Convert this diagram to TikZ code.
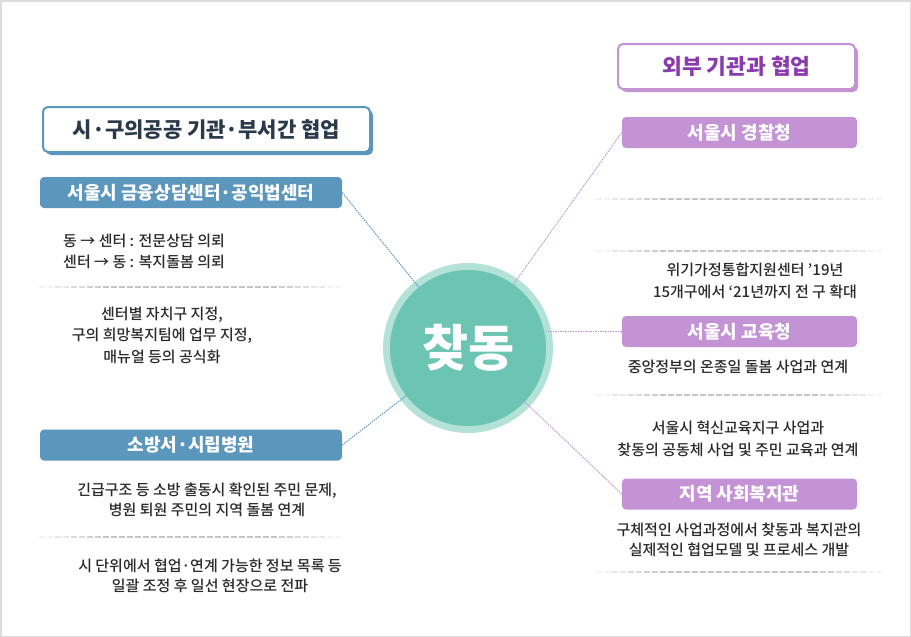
\documentclass[tikz,border=0pt]{standalone}
\usepackage{fontspec}
\setmainfont{Noto Sans CJK KR}
\newfontfamily\medfont{Noto Sans CJK KR Medium}
\usetikzlibrary{calc}
\definecolor{bluebox}{HTML}{5B96BD}
\definecolor{navytxt}{HTML}{2B3A4A}
\definecolor{purpbox}{HTML}{C393D6}
\definecolor{purptxt}{HTML}{8A3AAC}
\definecolor{tealin}{HTML}{6CC4B3}
\definecolor{tealring}{HTML}{B4E2D9}
\definecolor{bodytxt}{HTML}{2A2A2A}
\definecolor{sepgray}{HTML}{C4C4C4}
\definecolor{framegray}{HTML}{DDDDDD}
\tikzset{
  hdrbox/.style={draw=#1, line width=2pt, fill=white, rounded corners=5pt, minimum height=45pt, inner sep=0pt},
  hdrshadow/.style={fill=#1, rounded corners=5pt, minimum height=45pt, inner sep=0pt},
  catbox/.style={fill=#1, rounded corners=4pt, minimum height=31pt, inner sep=0pt, text=white, font=\fontsize{18}{20}\selectfont\bfseries},
  bodytext/.style={text=bodytxt, align=center, inner sep=0pt, font=\medfont\fontsize{15}{#1}\selectfont},
  bodytext/.default=21,
  sepline/.style={draw=sepgray, line width=1.3pt, dash pattern=on 6pt off 2pt},
  bluelink/.style={draw=bluebox, line width=0.9pt, dash pattern=on 1.6pt off 0.9pt},
  purplink/.style={draw=purpbox, line width=0.9pt, dash pattern=on 1.6pt off 0.9pt},
}
% fading dashed separator: #1 start coordinate, #2 number of 16pt segments
\newcommand\sepfade[2]{%
  \foreach \i in {1,...,#2}{%
    \pgfmathsetmacro\opa{min(1,min(\i,#2+1-\i)/5)}%
    \draw[sepline, draw opacity=\opa] ($(#1)+(16*\i-16,0)$) -- ($(#1)+(16*\i,0)$);
  }%
}
\begin{document}
\begin{tikzpicture}[x=1pt,y=-1pt]
\useasboundingbox (0,0) rectangle (911,637);
\draw[framegray, line width=1.5pt] (0.75,0.75) rectangle (910.25,636.25);

% ---------- left header ----------
\node[hdrshadow=bluebox, minimum width=327pt] (lhs) at (209.5,132.5) {};
\node[hdrbox=bluebox, minimum width=327pt, text=navytxt, font=\fontsize{21}{22}\selectfont\bfseries] (lh) at (206.5,129.5) {시·구의공공 기관·부서간 협업};

% ---------- right header ----------
\node[hdrshadow=purpbox, minimum width=237pt] (rhs) at (739.5,69.5) {};
\node[hdrbox=purpbox, minimum width=237pt, text=purptxt, font=\fontsize{21.5}{22}\selectfont\bfseries] (rh) at (736.5,66.5) {외부 기관과 협업};

% ---------- left boxes ----------
\node[catbox=bluebox, minimum width=302pt] (b1) at (191,192.5) {서울시 금융상담센터·공익법센터};
\node[catbox=bluebox, minimum width=302pt] (b2) at (191,445) {소방서·시립병원};

\node[bodytext, align=left, anchor=west] (t1) at (63,251.5) {동 → 센터 : 전문상담 의뢰\\센터 → 동 : 복지돌봄 의뢰};
\node[bodytext=21.5] (t2) at (162,335) {센터별 자치구 지정,\\구의 희망복지팀에 업무 지정,\\매뉴얼 등의 공식화};
\node[bodytext=20] (t3) at (207,500) {긴급구조 등 소방 출동시 확인된 주민 문제,\\병원 퇴원 주민의 지역 돌봄 연계};
\node[bodytext=20] (t4) at (210,575.5) {시 단위에서 협업·연계 가능한 정보 목록 등\\일괄 조정 후 일선 현장으로 전파};

\coordinate (ls1) at (39,287);
\coordinate (ls2) at (39,537);
\sepfade{ls1}{19}
\sepfade{ls2}{19}

% ---------- right boxes ----------
\node[catbox=purpbox, minimum width=235pt] (p1) at (739.5,132.5) {서울시 경찰청};
\node[catbox=purpbox, minimum width=235pt] (p2) at (739.5,331.5) {서울시 교육청};
\node[catbox=purpbox, minimum width=235pt] (p3) at (739.5,494) {지역 사회복지관};

\node[bodytext=22] (r1) at (755,281) {위기가정통합지원센터 ’19년\\15개구에서 ‘21년까지 전 구 확대};
\node[bodytext] (r2) at (738,366.5) {중앙정부의 온종일 돌봄 사업과 연계};
\node[bodytext=22] (r3) at (738,439) {서울시 혁신교육지구 사업과\\찾동의 공동체 사업 및 주민 교육과 연계};
\node[bodytext=20] (r4) at (739,540) {구체적인 사업과정에서 찾동과 복지관의\\실제적인 협업모델 및 프로세스 개발};

\coordinate (rs1) at (596,199);
\coordinate (rs2) at (596,251);
\coordinate (rs3) at (596,395);
\coordinate (rs4) at (596,572);
\sepfade{rs1}{18}
\sepfade{rs2}{18}
\sepfade{rs3}{18}
\sepfade{rs4}{18}

% ---------- centre ----------
\node[circle, fill=tealring, minimum size=170pt, inner sep=0pt] (ring) at (468,348) {};
\node[circle, fill=tealin, minimum size=156pt, inner sep=0pt, text=white, font=\fontsize{50}{54}\selectfont\bfseries] (core) at (468,348) {찾동};

% ---------- connectors ----------
\draw[bluelink] (b1.east) -- (core);
\draw[bluelink] (b2.east) -- (core);
\draw[purplink] (p1.west) -- (core);
\draw[purplink] (p2.west) -- (p2.west -| core.east);
\draw[purplink] (p3.west) -- (core);
\end{tikzpicture}
\end{document}
